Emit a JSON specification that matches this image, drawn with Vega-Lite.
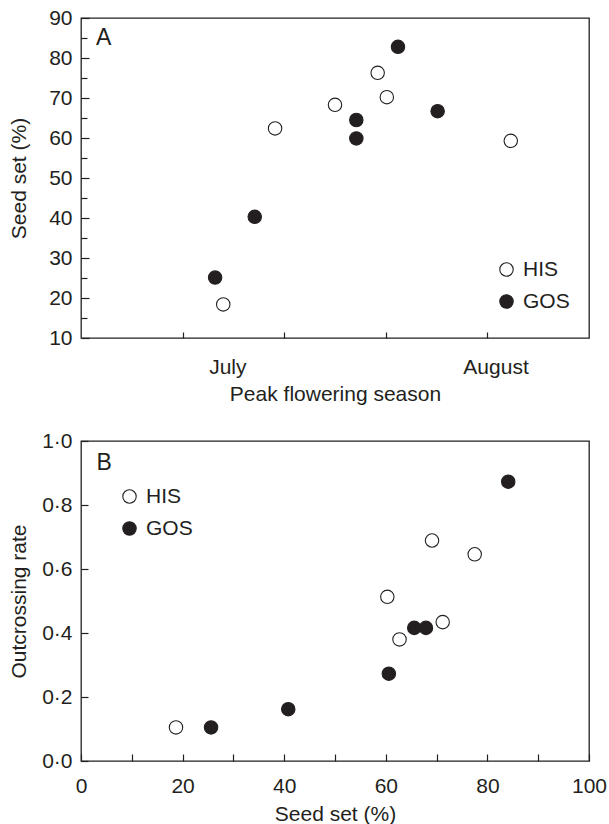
{
  "$schema": "https://vega.github.io/schema/vega-lite/v6.json",
  "background": "white",
  "padding": {"left": 7, "top": 6, "right": 5, "bottom": 3},
  "spacing": 103,
  "bounds": "flush",
  "resolve": {"legend": {"fill": "independent"}},
  "config": {
    "font": "Liberation Sans",
    "view": {"stroke": "#231f20", "strokeWidth": 1.3},
    "axis": {
      "domain": false,
      "grid": false,
      "tickColor": "#231f20",
      "tickWidth": 1.2,
      "labelColor": "#231f20",
      "titleColor": "#231f20",
      "labelFontSize": 21,
      "titleFontSize": 21,
      "titleFontWeight": "normal",
      "labelFlush": false,
      "labelOverlap": false
    },
    "legend": {
      "labelFontSize": 21,
      "labelColor": "#231f20",
      "symbolType": "circle",
      "symbolSize": 180,
      "symbolStrokeColor": "#231f20",
      "symbolStrokeWidth": 1.1,
      "rowPadding": 10,
      "labelOffset": 6
    }
  },
  "vconcat": [
    {
      "width": 508,
      "height": 320,
      "resolve": {"axis": {"y": "independent"}},
      "layer": [
        {
          "data": {
            "values": [
              {"group": "HIS", "season": 14.0, "seedset": 18.4},
              {"group": "HIS", "season": 19.1, "seedset": 62.4},
              {"group": "HIS", "season": 25.0, "seedset": 68.3},
              {"group": "HIS", "season": 29.2, "seedset": 76.3},
              {"group": "HIS", "season": 30.1, "seedset": 70.2},
              {"group": "HIS", "season": 42.3, "seedset": 59.3},
              {"group": "GOS", "season": 13.2, "seedset": 25.1},
              {"group": "GOS", "season": 17.1, "seedset": 40.3},
              {"group": "GOS", "season": 27.1, "seedset": 64.5},
              {"group": "GOS", "season": 27.1, "seedset": 59.9},
              {"group": "GOS", "season": 31.2, "seedset": 82.8},
              {"group": "GOS", "season": 35.1, "seedset": 66.7}
            ]
          },
          "mark": {"type": "point", "shape": "circle", "size": 180, "stroke": "#231f20", "strokeWidth": 1.1, "opacity": 1},
          "encoding": {
            "x": {
              "field": "season",
              "type": "quantitative",
              "scale": {"domain": [0, 50], "nice": false, "zero": false},
              "axis": {
                "title": "Peak flowering season",
                "values": [10, 14.4, 20, 30, 40, 40.8],
                "labelExpr": "datum.value == 14.4 ? 'July' : (datum.value == 40.8 ? 'August' : '')",
                "labelOverlap": false,
                "tickSize": -6,
                "labelPadding": 24,
                "tickOpacity": {"condition": {"test": "datum.value == 14.4 || datum.value == 40.8", "value": 0}, "value": 1},
                "titleX": 254,
                "titleY": 62,
                "titleAlign": "center",
                "titleBaseline": "alphabetic"
              }
            },
            "y": {
              "field": "seedset",
              "type": "quantitative",
              "scale": {"domain": [10, 90], "nice": false, "zero": false},
              "axis": {
                "orient": "left",
                "title": "Seed set (%)",
                "values": [10, 20, 30, 40, 50, 60, 70, 80, 90],
                "labelOverlap": false,
                "tickSize": -8,
                "labelPadding": 17,
                "titleX": -55.5,
                "titleY": 160,
                "titleAngle": -90,
                "titleAlign": "center",
                "titleBaseline": "alphabetic"
              }
            },
            "fill": {
              "field": "group",
              "type": "nominal",
              "scale": {"domain": ["HIS", "GOS"], "range": ["white", "#231f20"]},
              "legend": {"title": null, "orient": "none", "legendX": 415, "legendY": 241}
            }
          }
        },
        {
          "data": {"values": [{"panel": "A", "season": 1.48, "seedset": 83.2}]},
          "mark": {"type": "text", "align": "left", "baseline": "alphabetic", "fontSize": 23, "color": "#231f20"},
          "encoding": {
            "x": {"field": "season", "type": "quantitative"},
            "y": {
              "field": "seedset",
              "type": "quantitative",
              "axis": {
                "orient": "left",
                "title": null,
                "values": [15, 25, 35, 45, 55, 65, 75, 85],
                "labels": false,
                "tickSize": -6
              }
            },
            "text": {"field": "panel"}
          }
        }
      ]
    },
    {
      "width": 508,
      "height": 320,
      "layer": [
        {
          "data": {
            "values": [
              {"group": "HIS", "seedset": 18.7, "outcrossing": 0.105},
              {"group": "HIS", "seedset": 60.3, "outcrossing": 0.513},
              {"group": "HIS", "seedset": 62.7, "outcrossing": 0.38},
              {"group": "HIS", "seedset": 69.1, "outcrossing": 0.689},
              {"group": "HIS", "seedset": 71.2, "outcrossing": 0.434},
              {"group": "HIS", "seedset": 77.5, "outcrossing": 0.646},
              {"group": "GOS", "seedset": 25.6, "outcrossing": 0.105},
              {"group": "GOS", "seedset": 40.8, "outcrossing": 0.162},
              {"group": "GOS", "seedset": 60.6, "outcrossing": 0.273},
              {"group": "GOS", "seedset": 65.6, "outcrossing": 0.416},
              {"group": "GOS", "seedset": 67.9, "outcrossing": 0.416},
              {"group": "GOS", "seedset": 84.1, "outcrossing": 0.873}
            ]
          },
          "mark": {"type": "point", "shape": "circle", "size": 180, "stroke": "#231f20", "strokeWidth": 1.1, "opacity": 1},
          "encoding": {
            "x": {
              "field": "seedset",
              "type": "quantitative",
              "scale": {"domain": [0, 100], "nice": false},
              "axis": {
                "title": "Seed set (%)",
                "values": [0, 10, 20, 30, 40, 50, 60, 70, 80, 90, 100],
                "labelExpr": "datum.value % 20 == 0 ? datum.label : ''",
                "labelOverlap": false,
                "tickSize": -7,
                "labelPadding": 21,
                "titleX": 254,
                "titleY": 59,
                "titleAlign": "center",
                "titleBaseline": "alphabetic"
              }
            },
            "y": {
              "field": "outcrossing",
              "type": "quantitative",
              "scale": {"domain": [0, 1], "nice": false},
              "axis": {
                "title": "Outcrossing rate",
                "values": [0, 0.1, 0.2, 0.3, 0.4, 0.5, 0.6, 0.7, 0.8, 0.9, 1],
                "labelExpr": "round(datum.value * 10) % 2 == 0 ? replace(format(datum.value, '.1f'), '.', '·') : ''",
                "labelOverlap": false,
                "tickSize": -7,
                "labelPadding": 16,
                "titleX": -55.5,
                "titleY": 160,
                "titleAngle": -90,
                "titleAlign": "center",
                "titleBaseline": "alphabetic"
              }
            },
            "fill": {
              "field": "group",
              "type": "nominal",
              "scale": {"domain": ["HIS", "GOS"], "range": ["white", "#231f20"]},
              "legend": {"title": null, "orient": "none", "legendX": 38, "legendY": 45}
            }
          }
        },
        {
          "data": {"values": [{"panel": "B", "seedset": 3.05, "outcrossing": 0.908}]},
          "mark": {"type": "text", "align": "left", "baseline": "alphabetic", "fontSize": 23, "color": "#231f20"},
          "encoding": {
            "x": {"field": "seedset", "type": "quantitative"},
            "y": {"field": "outcrossing", "type": "quantitative"},
            "text": {"field": "panel"}
          }
        }
      ]
    }
  ]
}
